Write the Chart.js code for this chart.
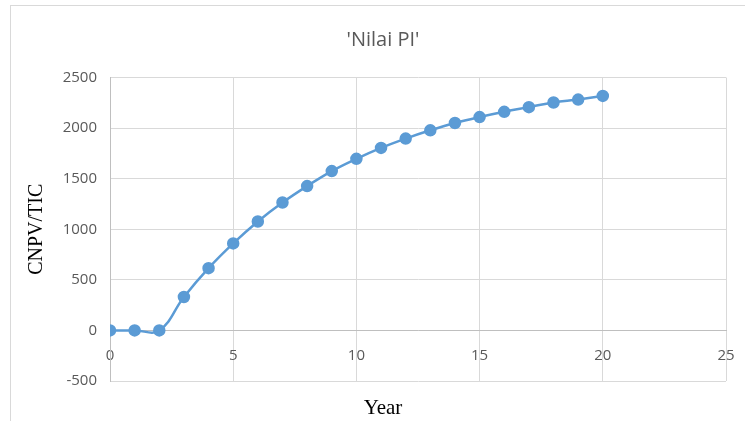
<!DOCTYPE html>
<html lang="id">
<head>
  <meta charset="UTF-8">
  <meta name="viewport" content="width=device-width, initial-scale=1.0">
  <script src="https://cdn.jsdelivr.net/npm/chart.js"></script>
  <title>Nilai PI</title>
  <style>
    body{margin: 0; background: #fff; overflow: hidden;}
    #wrap{position: relative; width: 745px; height: 421px;}
    #frame{position: absolute; left: 10px; top: 5px; width: 1000px; height: 1000px; border: 1px solid #d9d9d9; pointer-events: none;}
  </style>
</head>
<body>
  <div id="wrap">
    <div id="frame"></div>
    <canvas id="myChart" width="745" height="421"></canvas>
  </div>
  <script>
    const years = [0,1,2,3,4,5,6,7,8,9,10,11,12,13,14,15,16,17,18,19,20];
    const piValues = [0,0,0,330,615,860,1077,1264,1427,1575,1696,1804,1896,1978,2050,2109,2161,2207,2253,2282,2318];
    const xTicks = [0,5,10,15,20,25];
    const yTicks = [-500,0,500,1000,1500,2000,2500];

    let points = [];
    for(var i=0;i<years.length;i++){
      points.push({x: years[i], y: piValues[i]});
    }

    const ctx = document.getElementById('myChart');

    new Chart(ctx, {
      type: 'line',
      data: {
        datasets: [{
          label: 'Nilai PI',
          data: points,
          borderColor: '#5b9bd5',
          backgroundColor: '#5b9bd5',
          borderWidth: 2.5,
          pointRadius: 5,
          pointHoverRadius: 5,
          tension: 0.4,
          fill: false
        }]
      },
      options: {
        responsive: false,
        animation: false,
        layout: {
          padding: {left: 40, right: 19, top: 0, bottom: 0}
        },
        plugins: {
          legend: {display: false},
          tooltip: {enabled: false},
          title: {
            display: true,
            text: "'Nilai PI'",
            color: '#595959',
            font: {family: "'Open Sans'", size: 20, weight: 'normal'},
            padding: {top: 28, bottom: 25.5}
          },
          subtitle: {
            display: true,
            position: 'bottom',
            text: 'Year',
            color: '#000',
            font: {family: "'Liberation Serif'", size: 21, weight: 'normal'},
            padding: {top: 14.4, bottom: 0.4}
          }
        },
        scales: {
          x: {
            type: 'linear',
            position: {y: 0},
            min: 0,
            max: 25,
            afterBuildTicks: function(scale){
              scale.ticks = xTicks.map(v => ({value: v}));
            },
            afterFit: function(scale){
              // label padding should not shrink the plot area
              scale.paddingLeft = 0;
              scale.paddingRight = 0;
            },
            grid: {color: '#d9d9d9', lineWidth: 1, drawTicks: false},
            border: {display: true, color: '#bfbfbf', width: 1},
            ticks: {
              color: '#595959',
              font: {family: "'Open Sans'", size: 15},
              padding: 16,
              maxRotation: 0,
              callback: function(v){ return String(v); }
            }
          },
          y: {
            type: 'linear',
            min: -500,
            max: 2500,
            afterBuildTicks: function(scale){
              scale.ticks = yTicks.map(v => ({value: v}));
            },
            afterFit: function(scale){
              scale.width = 70;
            },
            grid: {color: '#d9d9d9', lineWidth: 1, drawTicks: false},
            border: {display: true, color: '#bfbfbf', width: 1},
            ticks: {
              color: '#595959',
              font: {family: "'Open Sans'", size: 15},
              padding: 13,
              callback: function(v){ return String(v); }
            },
            title: {
              display: true,
              text: 'CNPV/TIC',
              color: '#000',
              font: {family: "'Liberation Serif'", size: 20, weight: 'normal'},
              padding: {top: -15, bottom: 0}
            }
          }
        }
      }
    });
  </script>
</body>
</html>
